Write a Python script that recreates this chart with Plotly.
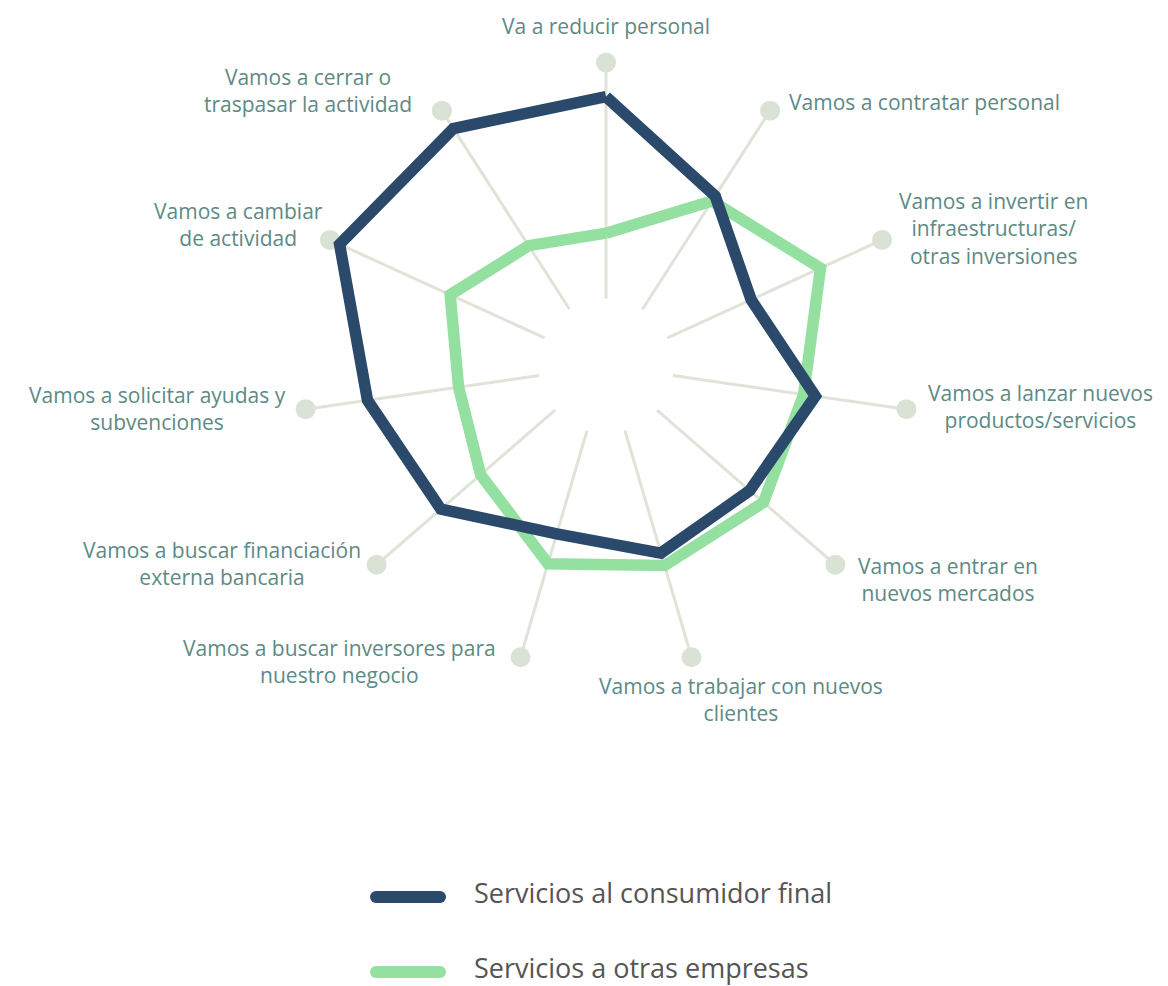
import math
import plotly.graph_objects as go

# ---------------- data ----------------
categories = [
    "Va a reducir personal",
    "Vamos a contratar personal",
    "Vamos a invertir en<br>infraestructuras/<br>otras inversiones",
    "Vamos a lanzar nuevos<br>productos/servicios",
    "Vamos a entrar en<br>nuevos mercados",
    "Vamos a trabajar con nuevos<br>clientes",
    "Vamos a buscar inversores para<br>nuestro negocio",
    "Vamos a buscar financiación<br>externa bancaria",
    "Vamos a solicitar ayudas y<br>subvenciones",
    "Vamos a cambiar<br>de actividad",
    "Vamos a cerrar o<br>traspasar la actividad",
]
series_names = ["Servicios al consumidor final", "Servicios a otras empresas"]
consumidor_final = [85.5, 57, 39, 61, 52, 54, 45.5, 64, 73.5, 95.5, 91]
otras_empresas = [27.7, 54.5, 71.3, 56, 59.7, 59.5, 58.7, 41.7, 34.5, 44, 32]
R_MAX = 100

# ---------------- style / layout ----------------
OFF = 8                      # page body margin of the exported html
W, H = 1168 - OFF, 986 - OFF
CX, CY, RPX, HOLE_PX = 606 - OFF, 366 - OFF, 303.5, 67.5
DARK = "#2b4a6b"
GREEN = "#94e0a1"
SPOKE = "#dfe3d8"
DOT = "#dae1d5"
LABEL = "#5d8a85"
FONT = "Open Sans"

# label placement relative to each axis-end dot: (xanchor, yanchor, dx, dy)
label_place = [
    ("center", "middle", 0, -37),
    ("left", "middle", 17, -9),
    ("left", "middle", 15, -11),
    ("left", "middle", 20, -3),
    ("left", "middle", 21, 15),
    ("center", "middle", 49, 42),
    ("right", "middle", -22, 4),
    ("right", "middle", -14, -1),
    ("right", "middle", -18, -1),
    ("right", "middle", -5, -15),
    ("right", "middle", -28, -20),
]

n = len(categories)
theta_deg = [i * 360 / n for i in range(n)]
closed = lambda v: list(v) + [v[0]]

fig = go.Figure()
# axis-end dots
fig.add_trace(go.Scatterpolar(
    r=[R_MAX] * n, theta=theta_deg, mode="markers",
    marker=dict(size=20, color=DOT), hoverinfo="skip", showlegend=False))
fig.add_trace(go.Scatterpolar(
    r=closed(otras_empresas), theta=closed(theta_deg), mode="lines",
    line=dict(color=GREEN, width=11.5), name=series_names[1], showlegend=False))
fig.add_trace(go.Scatterpolar(
    r=closed(consumidor_final), theta=closed(theta_deg), mode="lines",
    line=dict(color=DARK, width=11.5), name=series_names[0], showlegend=False))

fig.update_layout(
    width=W, height=H,
    margin=dict(l=0, r=0, t=0, b=0),
    paper_bgcolor="white",
    font=dict(family=FONT, color=LABEL),
    polar=dict(
        domain=dict(x=[(CX - RPX) / W, (CX + RPX) / W],
                    y=[(H - CY - RPX) / H, (H - CY + RPX) / H]),
        hole=HOLE_PX / RPX,
        bgcolor="white",
        radialaxis=dict(range=[0, R_MAX], visible=False, showgrid=False),
        angularaxis=dict(
            type="linear", rotation=90, direction="clockwise", thetaunit="degrees",
            tickmode="array", tickvals=theta_deg,
            showline=False, showticklabels=False, ticks="",
            gridcolor=SPOKE, gridwidth=2.5,
        ),
    ),
)

# category labels next to the axis-end dots
for i, (txt, (xa, ya, dx, dy)) in enumerate(zip(categories, label_place)):
    a = math.radians(theta_deg[i])
    px = CX + RPX * math.sin(a) + dx
    py = CY - RPX * math.cos(a) + dy
    fig.add_annotation(
        x=px / W, y=1 - py / H, xref="paper", yref="paper",
        text=txt, showarrow=False, xanchor=xa, yanchor=ya, align="center",
        font=dict(family=FONT, size=21, color=LABEL))

# custom legend
leg_y = [897 - OFF, 972 - OFF]
for name, col, yy in zip(series_names, [DARK, GREEN], leg_y):
    x0, x1, hw = 376 - OFF, 440 - OFF, 6
    fig.add_shape(type="line", xref="paper", yref="paper",
                  x0=x0 / W, x1=x1 / W, y0=1 - yy / H, y1=1 - yy / H,
                  line=dict(color=col, width=12))
    for xc in (x0, x1):
        fig.add_shape(type="circle", xref="paper", yref="paper",
                      x0=(xc - hw) / W, x1=(xc + hw) / W,
                      y0=1 - (yy + hw) / H, y1=1 - (yy - hw) / H,
                      fillcolor=col, line=dict(width=0))
    fig.add_annotation(x=(472 - OFF) / W, y=1 - (yy - 5) / H, xref="paper", yref="paper",
                       text=name, showarrow=False, xanchor="left", yanchor="middle",
                       font=dict(family=FONT, size=27, color="#555555"))

fig.write_html("out.html")
